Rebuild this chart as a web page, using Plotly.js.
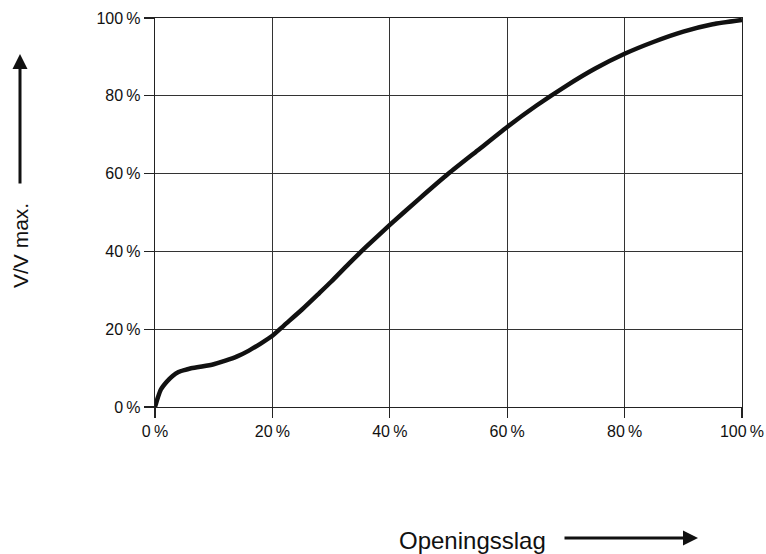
<!DOCTYPE html>
<html>
<head>
<meta charset="utf-8">
<script src="https://cdn.plot.ly/plotly-3.0.1.min.js"></script>
<style>html,body{margin:0;padding:0;background:#fff;}#chart{width:766px;height:554px;}</style>
</head>
<body>
<div id="chart"></div>
<script>
// Opening stroke (%) and relative flow V/Vmax (%)
const openingStroke = [0, 0.5, 1, 2, 3, 4, 5, 6, 8, 10, 12, 14, 16, 18, 20, 22, 25, 28, 30, 33, 36, 40, 45, 50, 55, 60, 65, 70, 75, 80, 85, 90, 95, 100];
const flowRatio     = [0, 2.5, 4.5, 6.5, 8, 9, 9.5, 9.9, 10.4, 11, 11.9, 13, 14.5, 16.3, 18.3, 21, 25, 29.3, 32.2, 36.8, 41.2, 46.8, 53.5, 60, 66, 72, 77.5, 82.5, 87, 90.8, 93.9, 96.5, 98.4, 99.5];
const tickValues = [0, 20, 40, 60, 80, 100];
const tickLabels = ["0\u2009%", "20\u2009%", "40\u2009%", "60\u2009%", "80\u2009%", "100\u2009%"];
const xLabel = "Openingsslag";
const yLabel = "V/V max.";

const font = "Liberation Sans, Arial, Helvetica, sans-serif";

const trace = {
  x: openingStroke, y: flowRatio, type: "scatter", mode: "lines",
  line: {color: "#111", width: 4.5, shape: "spline", smoothing: 0.6},
  hoverinfo: "skip"
};

const axisCommon = {
  range: [0, 100], tickvals: tickValues, ticktext: tickLabels,
  showgrid: true, gridcolor: "#333", gridwidth: 1,
  showline: true, mirror: true, linecolor: "#222", linewidth: 1.2,
  ticks: "outside", ticklen: 10, tickcolor: "#222", tickwidth: 1.2,
  zeroline: false, fixedrange: true,
  tickfont: {family: font, size: 16, color: "#111"}
};

const layout = {
  width: 766, height: 554,
  margin: {l: 155, r: 24, t: 18, b: 147},
  paper_bgcolor: "#fff", plot_bgcolor: "#fff",
  showlegend: false,
  xaxis: Object.assign({}, axisCommon),
  yaxis: Object.assign({}, axisCommon, {ticklabelstandoff: 0}),
  annotations: [
    {xref: "paper", yref: "paper", x: (397 - 155) / 587, y: -(540 - 407) / 389,
     xanchor: "left", yanchor: "middle", text: xLabel, showarrow: false,
     font: {family: font, size: 24, color: "#111"}},
    {xref: "paper", yref: "paper", x: (698 - 155) / 587, y: -(538 - 407) / 389,
     ax: -135, ay: 0, axref: "pixel", ayref: "pixel",
     text: "", showarrow: true, arrowhead: 2, arrowsize: 1, arrowwidth: 3, arrowcolor: "#111"},
    {xref: "paper", yref: "paper", x: -(155 - 20) / 587, y: (407 - 246) / 389,
     xanchor: "center", yanchor: "middle", text: yLabel, textangle: -90, showarrow: false,
     font: {family: font, size: 21, color: "#111"}},
    {xref: "paper", yref: "paper", x: -(155 - 20) / 587, y: (407 - 54) / 389,
     ax: 0, ay: 131, axref: "pixel", ayref: "pixel",
     text: "", showarrow: true, arrowhead: 2, arrowsize: 1, arrowwidth: 3, arrowcolor: "#111"}
  ]
};

Plotly.newPlot("chart", [trace], layout, {displayModeBar: false, staticPlot: true});
</script>
</body>
</html>
